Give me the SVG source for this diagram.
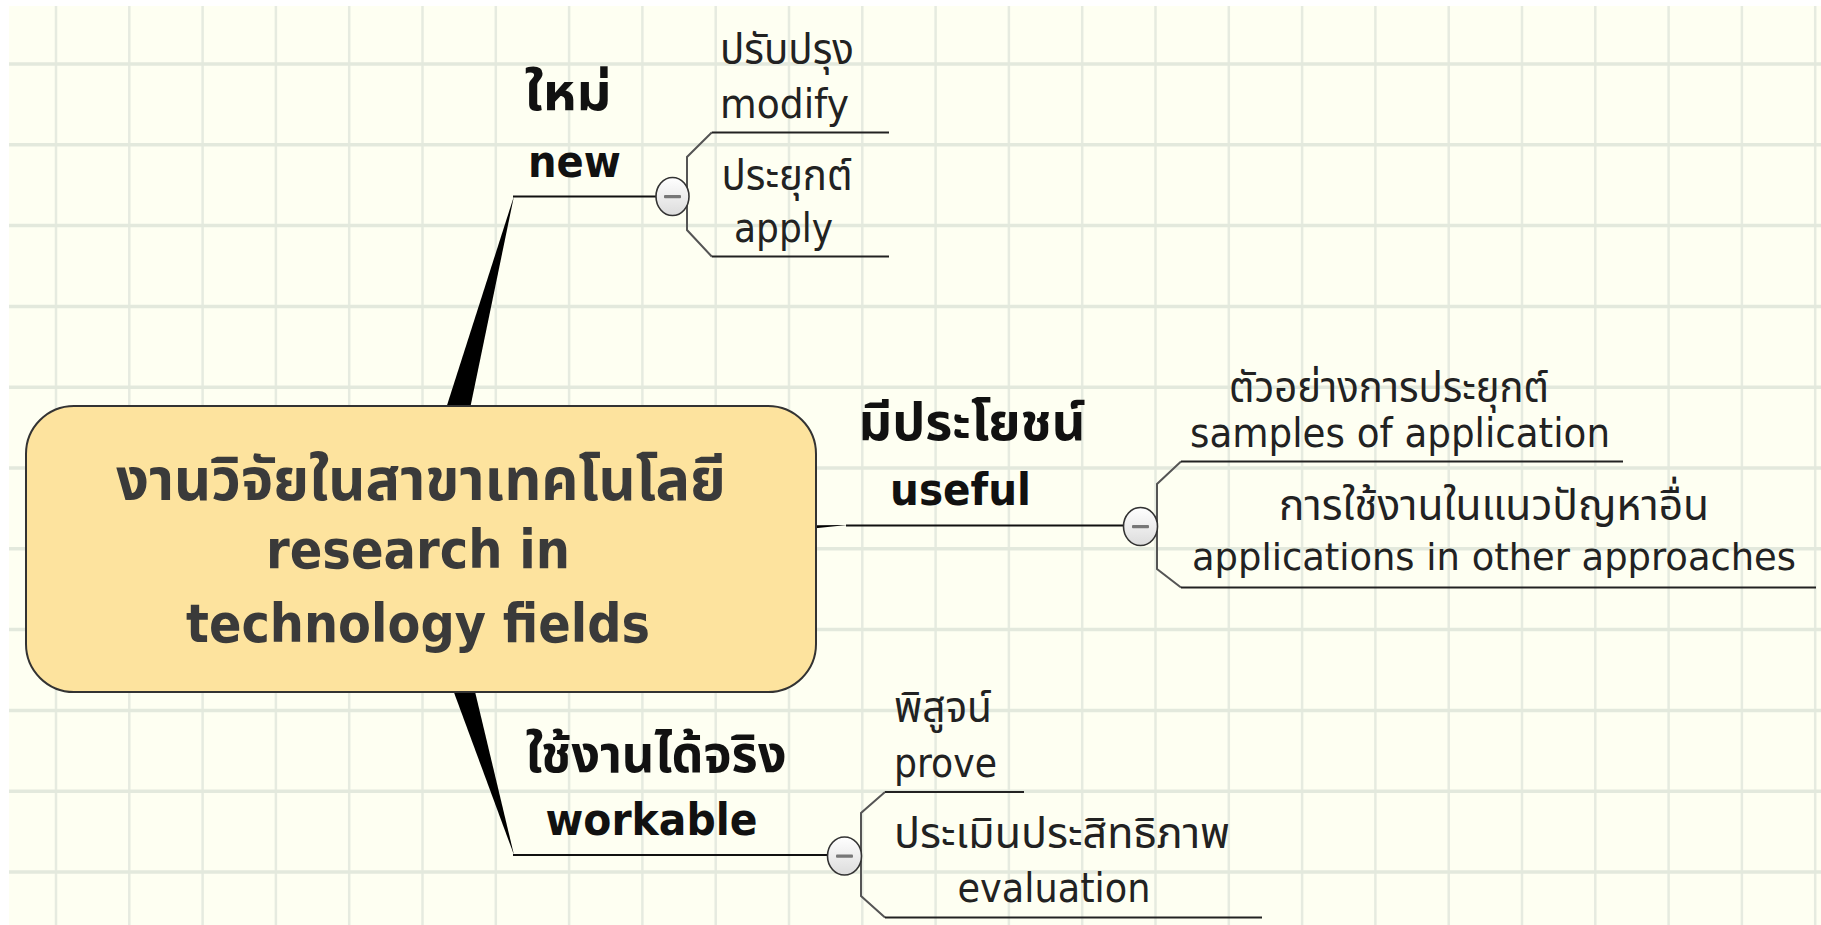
<svg xmlns="http://www.w3.org/2000/svg" width="1821" height="925" viewBox="0 0 1821 925">
<defs>
<linearGradient id="knob" x1="0" y1="0" x2="0" y2="1">
<stop offset="0" stop-color="#ffffff"/>
<stop offset="1" stop-color="#dcdcdc"/>
</linearGradient>
<style>
.gv{stroke:#e6ebe0;stroke-width:2.5;fill:none}
.gh{stroke:#e3e9dd;stroke-width:3.5;fill:none}
.wedge{fill:#000}
.link{stroke:#111;stroke-width:2;fill:none}
.brk{stroke:#555;stroke-width:2;fill:none}
.ul{stroke:#222;stroke-width:2.2;fill:none}
.knob{fill:url(#knob);stroke:#333;stroke-width:1.6}
.minus{fill:#777}
.center{fill:#fde39e;stroke:#333;stroke-width:2}
text{font-family:"DejaVu Sans","Noto Sans Thai","Noto Sans",sans-serif;text-anchor:middle}
.ct{font-weight:bold;font-size:53px;fill:#3a3a3a}
.ctt{font-weight:bold;font-size:58px;fill:#3a3a3a}
.lb{font-weight:bold;font-size:45px;fill:#111}
.lbt{font-weight:bold;font-size:52px;fill:#111}
.ch{font-size:40px;fill:#222}
.cht{font-size:43px;fill:#222}
</style>
</defs>
<rect x="0" y="0" width="1821" height="925" fill="#ffffff"/>
<rect x="9" y="6" width="1812" height="919" fill="#fefff2"/>
<g id="grid">
<path class="gv" d="M56 6V925M129.3 6V925M202.6 6V925M275.9 6V925M349.2 6V925M422.5 6V925M495.8 6V925M569.1 6V925M642.4 6V925M715.7 6V925M789 6V925M862.3 6V925M935.6 6V925M1008.9 6V925M1082.2 6V925M1155.5 6V925M1228.8 6V925M1302.1 6V925M1375.4 6V925M1448.7 6V925M1522 6V925M1595.3 6V925M1668.6 6V925M1741.9 6V925M1815.2 6V925"/>
<path class="gh" d="M9 64H1821M9 144.8H1821M9 225.6H1821M9 306.4H1821M9 387.2H1821M9 468H1821M9 548.8H1821M9 629.6H1821M9 710.4H1821M9 791.2H1821M9 872H1821"/>
</g>
<g id="connectors">
<polygon class="wedge" points="401,549 441,549 514,196"/>
<polygon class="wedge" points="421,529 421,569 847,525"/>
<polygon class="wedge" points="401,549 441,549 514,855"/>
<path class="link" d="M513 196.5H656"/>
<path class="link" d="M846 525.5H1124"/>
<path class="link" d="M513 855H828"/>
<path class="brk" d="M711.7 132.5L687 157V230L711.7 256.5"/>
<path class="brk" d="M1181 461.5L1157 484V569L1181 587.5"/>
<path class="brk" d="M885 792L861 813V896L885 917.5"/>
</g>
<g id="node-center">
<rect class="center" x="26" y="406" width="790" height="286" rx="48" ry="48"/>
<text class="ctt" x="421" y="500" textLength="610" lengthAdjust="spacingAndGlyphs">งานวิจัยในสาขาเทคโนโลยี</text>
<text class="ct" x="418" y="568" textLength="304" lengthAdjust="spacingAndGlyphs">research in</text>
<text class="ct" x="418" y="642" textLength="464" lengthAdjust="spacingAndGlyphs">technology fields</text>
</g>
<g id="node-new">
<text class="lbt" x="568" y="110" textLength="87" lengthAdjust="spacingAndGlyphs">ใหม่</text>
<text class="lb" x="574.5" y="177" textLength="93" lengthAdjust="spacingAndGlyphs">new</text>
<ellipse class="knob" cx="672.5" cy="196.5" rx="16.5" ry="19"/>
<rect class="minus" x="664" y="195" width="17" height="3.2" rx="1"/>
</g>
<g id="node-modify">
<path class="ul" d="M711.7 132.5H889"/>
<text class="cht" x="787" y="64" textLength="134" lengthAdjust="spacingAndGlyphs">ปรับปรุง</text>
<text class="ch" x="784.5" y="118" textLength="129" lengthAdjust="spacingAndGlyphs">modify</text>
</g>
<g id="node-apply">
<path class="ul" d="M711.7 256.5H889"/>
<text class="cht" x="787" y="190" textLength="131" lengthAdjust="spacingAndGlyphs">ประยุกต์</text>
<text class="ch" x="783.5" y="241.7" textLength="99" lengthAdjust="spacingAndGlyphs">apply</text>
</g>
<g id="node-useful">
<text class="lbt" x="972" y="440" textLength="227" lengthAdjust="spacingAndGlyphs">มีประโยชน์</text>
<text class="lb" x="960.5" y="505" textLength="141" lengthAdjust="spacingAndGlyphs">useful</text>
<ellipse class="knob" cx="1140.5" cy="526.5" rx="17" ry="19"/>
<rect class="minus" x="1132" y="525" width="17" height="3.2" rx="1"/>
</g>
<g id="node-samples">
<path class="ul" d="M1181 461.5H1623"/>
<text class="cht" x="1389" y="401.7" textLength="320" lengthAdjust="spacingAndGlyphs">ตัวอย่างการประยุกต์</text>
<text class="ch" x="1400" y="446.7" textLength="420" lengthAdjust="spacingAndGlyphs">samples of application</text>
</g>
<g id="node-applications">
<path class="ul" d="M1181 587.5H1816"/>
<text class="cht" x="1494" y="520" textLength="430" lengthAdjust="spacingAndGlyphs">การใช้งานในแนวปัญหาอื่น</text>
<text class="ch" x="1494" y="570" font-size="38" textLength="604" lengthAdjust="spacingAndGlyphs" style="font-size:38px">applications in other approaches</text>
</g>
<g id="node-workable">
<text class="lbt" x="656" y="772" textLength="261" lengthAdjust="spacingAndGlyphs">ใช้งานได้จริง</text>
<text class="lb" x="651.5" y="835" textLength="212" lengthAdjust="spacingAndGlyphs">workable</text>
<ellipse class="knob" cx="844.5" cy="856" rx="17" ry="19"/>
<rect class="minus" x="836" y="854.5" width="17" height="3.2" rx="1"/>
</g>
<g id="node-prove">
<path class="ul" d="M885 792H1024"/>
<text class="cht" x="943" y="722" textLength="98" lengthAdjust="spacingAndGlyphs">พิสูจน์</text>
<text class="ch" x="945.5" y="776.7" textLength="103" lengthAdjust="spacingAndGlyphs">prove</text>
</g>
<g id="node-evaluation">
<path class="ul" d="M885 917.5H1262"/>
<text class="cht" x="1062" y="848" textLength="336" lengthAdjust="spacingAndGlyphs">ประเมินประสิทธิภาพ</text>
<text class="ch" x="1054" y="901.7" textLength="193" lengthAdjust="spacingAndGlyphs">evaluation</text>
</g>
</svg>
